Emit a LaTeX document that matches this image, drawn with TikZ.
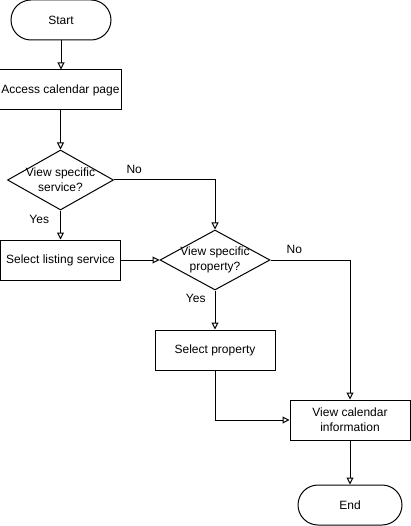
\documentclass[tikz,border=0pt]{standalone}
\usepackage{fontspec}
\setmainfont{Liberation Sans}
\usetikzlibrary{shapes,arrows.meta,positioning}

\tikzset{
  box/.style={rectangle, draw=black, minimum width=120pt, minimum height=40pt, inner sep=2pt, align=center},
  term/.style={box, rounded corners=20pt, minimum width=100pt},
  decision/.style={diamond, draw=black, minimum height=60pt, inner sep=0pt},
  flow/.style={draw=black, -{Triangle[open, length=7pt, width=7pt]}},
  lbl/.style={inner sep=1pt, align=center},
}

\begin{document}
\begin{tikzpicture}[x=1pt, y=-1pt, line width=1pt, font=\fontsize{12}{15}\selectfont]

  \useasboundingbox (0,0) rectangle (411,526);

  % left column
  \node[term] (start) at (61,20) {Start};
  \node[box] (access) at (60.5,90) {Access calendar page};
  \node[decision, minimum width=106pt] (svc) at (60.5,180) {};
  \node[lbl] (svctext) at (svc) {View specific\\service?};
  \node[box] (listing) at (60.5,260) {Select listing service};

  % middle column
  \node[decision, minimum width=110pt] (prop) at (215,260) {};
  \node[lbl] (proptext) at (prop) {View specific\\property?};
  \node[box] (selprop) at (215,350) {Select property};

  % right column
  \node[box] (calinfo) at (350,420) {View calendar\\information};
  \node[term, minimum width=104pt] (end) at (350,505) {End};

  \draw[flow] (start.south) -- (start.south |- access.north);
  \draw[flow] (access) -- (svc);
  \draw[flow] (svc) -- node[lbl, pos=0.3, left=10pt] (yes1) {Yes} (listing);
  \draw[flow] (svc.east) -| node[lbl, pos=0.1, above=5pt] (no1) {No} (prop.north);
  \draw[flow] (listing) -- (prop);
  \draw[flow] (prop.east) -| node[lbl, pos=0.15, above=5pt] (no2) {No} (calinfo.north);
  \draw[flow] (prop) -- node[lbl, pos=0.2, left=8pt] (yes2) {Yes} (selprop);
  \draw[flow] (selprop.south) |- (calinfo.west);
  \draw[flow] (calinfo) -- (end);

\end{tikzpicture}
\end{document}
